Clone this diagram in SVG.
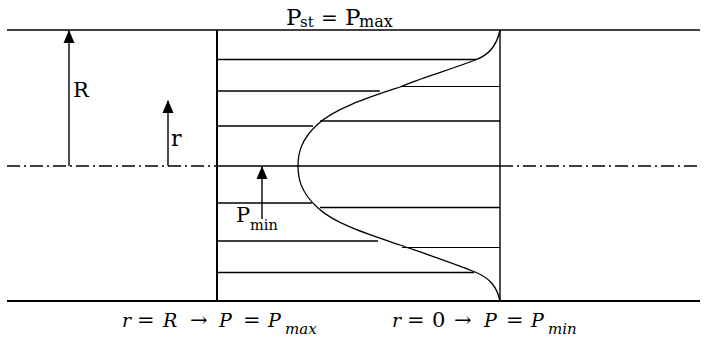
<svg xmlns="http://www.w3.org/2000/svg" width="705" height="340" viewBox="0 0 705 340">
<style>
.ln{stroke:#000;stroke-width:1.4;fill:none}
.t{font-family:"DejaVu Serif","Liberation Serif",serif;fill:#000}
.m{font-family:"DejaVu Serif","Liberation Serif",serif;font-style:italic;fill:#000;font-size:19px}
.u{font-style:normal;font-size:21px}
.ms{font-family:"DejaVu Serif","Liberation Serif",serif;font-style:italic;fill:#000;font-size:15px}
</style>
<defs>
<marker id="ah" markerWidth="13" markerHeight="12" refX="12" refY="6" orient="auto" markerUnits="userSpaceOnUse" viewBox="0 0 13 12">
<path d="M0,0.5 L13,6 L0,11.5 Z" fill="#000"/>
</marker>
</defs>
<rect width="705" height="340" fill="#fff"/>
<g id="pipe">
<line class="ln" x1="7" y1="30" x2="700" y2="30"/>
<line class="ln" x1="7" y1="301" x2="700" y2="301" style="stroke-width:2.2"/>
<line class="ln" x1="7" y1="166" x2="217" y2="166" style="stroke-dasharray:13 4 2 4"/>
<line class="ln" x1="500" y1="166" x2="700" y2="166" style="stroke-dasharray:13 4 2 4"/>
</g>
<g id="profile">
<line class="ln" x1="217" y1="30" x2="217" y2="301" style="stroke-width:2"/>
<line class="ln" x1="500" y1="30" x2="500" y2="301"/>
<line class="ln" x1="217" y1="59.5" x2="476" y2="59.5"/>
<line class="ln" x1="217" y1="91" x2="380" y2="91"/>
<line class="ln" x1="402" y1="86.5" x2="500" y2="86.5" style="stroke-width:1.1"/>
<line class="ln" x1="217" y1="126" x2="313" y2="126"/>
<line class="ln" x1="320" y1="121" x2="500" y2="121"/>
<line class="ln" x1="217" y1="166" x2="500" y2="166"/>
<line class="ln" x1="217" y1="203" x2="312" y2="203"/>
<line class="ln" x1="320" y1="207.5" x2="500" y2="207.5"/>
<line class="ln" x1="217" y1="241" x2="378" y2="241"/>
<line class="ln" x1="402" y1="247.5" x2="500" y2="247.5" style="stroke-width:1.1"/>
<line class="ln" x1="217" y1="272.5" x2="474" y2="272.5"/>
<path class="ln" style="stroke-width:1.3" d="M500,30 C497,45 490,55 475,60 C450,70 420,78 400,87 C370,97 335,108 318,124 C300,140 298,155 298,166 C298,177 300,192 318,208 C335,224 370,235 400,245 C420,252 450,262 475,272 C490,278 497,287 500,301"/>
</g>
<g id="connectors">
<line class="ln" x1="69" y1="166" x2="69" y2="31" marker-end="url(#ah)"/>
<line class="ln" x1="168" y1="166" x2="168" y2="101" marker-end="url(#ah)"/>
<line class="ln" x1="262" y1="219" x2="262" y2="167" marker-end="url(#ah)"/>
</g>
<g id="labels">
<text class="t" x="73" y="97" font-size="21">R</text>
<text class="t" x="171" y="146" font-size="22">r</text>
<text class="t" x="236" y="222" font-size="21">P</text>
<text class="t" x="250" y="230" font-size="14.5">min</text>
<text class="t" x="286" y="25" font-size="23">P</text>
<text class="t" x="300" y="27" font-size="15">st</text>
<text class="t" x="321" y="25" font-size="20">=</text>
<text class="t" x="345" y="25" font-size="23">P</text>
<text class="t" x="359" y="27" font-size="16">max</text>
</g>
<g id="formulas">
<text class="m" y="327"><tspan x="122">r</tspan><tspan class="u" x="137">=</tspan><tspan x="163">R</tspan><tspan class="u" x="190">→</tspan><tspan x="219">P</tspan><tspan class="u" x="243">=</tspan><tspan x="268">P</tspan></text>
<text class="ms" x="285" y="334">max</text>
<text class="m" y="327"><tspan x="392">r</tspan><tspan class="u" x="407">=</tspan><tspan class="u" x="432">0</tspan><tspan class="u" x="454">→</tspan><tspan x="484">P</tspan><tspan class="u" x="506">=</tspan><tspan x="531">P</tspan></text>
<text class="ms" x="548" y="334">min</text>
</g>
</svg>
